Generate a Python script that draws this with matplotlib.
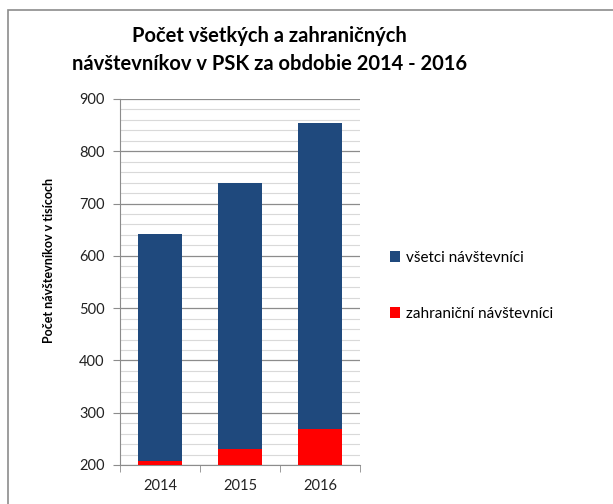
import numpy as np
import matplotlib.pyplot as plt
from matplotlib.patches import Rectangle
from matplotlib.ticker import MultipleLocator, FixedLocator

plt.rcParams['font.family'] = ['Lato', 'DejaVu Sans']

# data (tisícoch)
years = ['2014', '2015', '2016']
vsetci = [642, 739, 854]
zahranicni = [208, 231, 269]

blue = '#1f497d'
red = '#ff0000'

fig = plt.figure(figsize=(6.13, 5.04), dpi=100)
ax = fig.add_axes([0.1958, 0.0774, 0.3915, 0.7262])

x = np.arange(len(years))
base = 200
ax.bar(x, np.array(vsetci) - base, bottom=base, width=0.55, color=blue,
       label='všetci návštevníci', zorder=3)
ax.bar(x, np.array(zahranicni) - base, bottom=base, width=0.55, color=red,
       label='zahraniční návštevníci', zorder=4)

ax.set_ylim(200, 900)
ax.set_xlim(-0.5, 2.5)
ax.yaxis.set_major_locator(MultipleLocator(100))
ax.yaxis.set_minor_locator(MultipleLocator(20))
ax.grid(which='major', axis='y', color='#8c8c8c', lw=0.9, zorder=1)
ax.grid(which='minor', axis='y', color='#d9d9d9', lw=0.8, zorder=0)
ax.set_xticks(x)
ax.set_xticklabels(years)
ax.xaxis.set_minor_locator(FixedLocator([-0.5, 0.5, 1.5, 2.5]))
ax.tick_params(axis='x', which='major', length=0, labelsize=10.5, pad=10, colors='#222222')
ax.tick_params(axis='x', which='minor', length=5, color='#8c8c8c')
ax.tick_params(axis='y', which='major', length=5, color='#8c8c8c', labelsize=10.5,
               colors='#222222', pad=6)
ax.tick_params(axis='y', which='minor', length=0)
for s in ['top', 'right']:
    ax.spines[s].set_visible(False)
ax.spines['left'].set_color('#8c8c8c')
ax.spines['bottom'].set_color('#8c8c8c')

ax.set_ylabel('Počet návštevníkov v tisícoch', fontsize=9, fontweight='bold')
ax.yaxis.set_label_coords(-0.27, 0.56)

fig.legend(loc='upper left', bbox_to_anchor=(0.613, 0.53), frameon=False,
           fontsize=11, handlelength=0.7, handleheight=0.7, handletextpad=0.4,
           labelspacing=2.75)

fig.text(0.44, 0.9, 'Počet všetkých a zahraničných\nnávštevníkov v PSK za obdobie 2014 - 2016',
         ha='center', va='center', fontsize=14.5, fontweight='bold', linespacing=1.5)

fig.patches.append(Rectangle((8 / 613, -0.1), 1.1, 1.1 - 10 / 504, transform=fig.transFigure,
                             fill=False, edgecolor='#8c8c8c', lw=1.2))

fig.savefig('out.png', dpi=100)
